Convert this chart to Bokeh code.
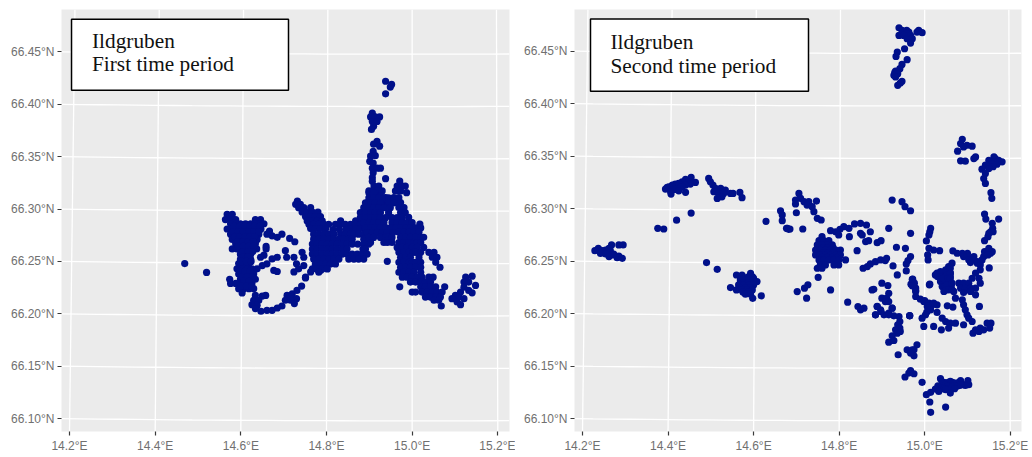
import math
from bokeh.embed import file_html
from bokeh.layouts import row
from bokeh.models import BoxAnnotation, FixedTicker, Label, PrintfTickFormatter, Range1d
from bokeh.plotting import figure
from bokeh.resources import INLINE

LON_TICKS = [14.2, 14.4, 14.6, 14.8, 15.0, 15.2]
LAT_TICKS = [66.10, 66.15, 66.20, 66.25, 66.30, 66.35, 66.40, 66.45]

# Each row: (latitude, [longitudes at that latitude])
first_west = [
    (66.295, [14.568, 14.580]),
    (66.290, [14.564, 14.576, 14.588, 14.634, 14.646]),
    (66.286, [14.576, 14.588, 14.599, 14.611, 14.623, 14.634, 14.646, 14.654]),
    (66.281, [14.568, 14.580, 14.591, 14.603, 14.615, 14.626, 14.638, 14.647]),
    (66.276, [14.576, 14.588, 14.599, 14.611, 14.623, 14.634, 14.642]),
    (66.271, [14.580, 14.591, 14.603, 14.615, 14.626, 14.638]),
    (66.267, [14.588, 14.599, 14.611, 14.623, 14.634]),
    (66.262, [14.580, 14.591, 14.603, 14.615, 14.626, 14.637]),
    (66.257, [14.599, 14.611, 14.623]),
    (66.252, [14.599, 14.611, 14.623]),
    (66.248, [14.469, 14.595, 14.607, 14.619]),
    (66.243, [14.591, 14.603, 14.615, 14.626]),
    (66.2395, [14.52]),
    (66.238, [14.595, 14.607, 14.619, 14.630]),
    (66.233, [14.574, 14.599, 14.611, 14.623, 14.634]),
    (66.229, [14.576, 14.588, 14.603, 14.615, 14.626]),
    (66.224, [14.595, 14.607, 14.619, 14.630]),
    (66.220, [14.603]),
    (66.2835, [14.585, 14.597, 14.609, 14.621, 14.632, 14.644]),
    (66.2785, [14.582, 14.594, 14.606, 14.618, 14.63, 14.642]),
    (66.2735, [14.586, 14.597, 14.609, 14.621, 14.632]),
    (66.269, [14.593, 14.605, 14.617, 14.629]),
    (66.2645, [14.594, 14.606, 14.618, 14.63]),
    (66.2595, [14.605, 14.617, 14.628]),
    (66.2545, [14.605, 14.617]),
    (66.25, [14.601, 14.613, 14.624]),
    (66.2405, [14.597, 14.609, 14.621]),
    (66.2355, [14.603, 14.615, 14.627]),
    (66.231, [14.607, 14.619]),
    (66.2265, [14.601, 14.613, 14.625]),
]
first_ring = [
    (66.2265, [14.742]), (66.2224, [14.731]), (66.2192, [14.72]),
    (66.2176, [14.634, 14.658, 14.708]), (66.217, [14.650]), (66.216, [14.717]),
    (66.2145, [14.73]), (66.213, [14.630, 14.642, 14.704, 14.716]),
    (66.2098, [14.725]), (66.2088, [14.626]), (66.2082, [14.638]), (66.2075, [14.696]),
    (66.2056, [14.685]), (66.205, [14.634]), (66.2034, [14.661, 14.673]), (66.2025, [14.647]),
]
first_middle = [
    (66.279, [14.667]), (66.2745, [14.673]), (66.273, [14.685]), (66.276, [14.661, 14.696]),
    (66.272, [14.714]), (66.2688, [14.726]), (66.2644, [14.659]), (66.262, [14.659]),
    (66.2603, [14.704]), (66.2587, [14.743]), (66.256, [14.654]),
    (66.254, [14.646, 14.685, 14.707, 14.724, 14.747]), (66.2524, [14.673]),
    (66.2477, [14.661, 14.73]), (66.2461, [14.65, 14.747]), (66.243, [14.638, 14.735]),
    (66.2445, [14.774]), (66.2414, [14.677, 14.786]), (66.2404, [14.685]),
    (66.24, [14.724, 14.763]), (66.235, [14.751]),
]
first_centre = [
    (66.3076, [14.732]),
    (66.3045, [14.728, 14.739]),
    (66.3013, [14.735, 14.747, 14.763]),
    (66.2972, [14.743, 14.755, 14.767, 14.780]),
    (66.2928, [14.751, 14.763, 14.774, 14.786]),
    (66.2887, [14.755, 14.767, 14.778, 14.790, 14.833, 14.868]),
    (66.2855, [14.759, 14.770, 14.782, 14.794, 14.805, 14.821, 14.833, 14.844, 14.856, 14.868, 14.879]),
    (66.2814, [14.763, 14.774, 14.786, 14.798, 14.856, 14.868, 14.879, 14.891]),
    (66.2805, [14.815, 14.83, 14.845]),
    (66.276, [14.770, 14.782, 14.794, 14.805, 14.817, 14.833, 14.844, 14.856, 14.864, 14.875, 14.887, 14.899]),
    (66.2713, [14.770, 14.782, 14.794, 14.805, 14.817, 14.829, 14.84, 14.852, 14.86, 14.887, 14.899]),
    (66.2666, [14.767, 14.778, 14.790, 14.802, 14.813, 14.825, 14.837, 14.848, 14.86, 14.873, 14.887, 14.899]),
    (66.2618, [14.767, 14.778, 14.790, 14.802, 14.813, 14.825, 14.837, 14.848, 14.885, 14.891]),
    (66.2571, [14.767, 14.778, 14.790, 14.802, 14.813, 14.825, 14.837, 14.848, 14.86, 14.872, 14.883, 14.895]),
    (66.2523, [14.770, 14.782, 14.794, 14.805, 14.817, 14.829, 14.852, 14.864, 14.875, 14.887]),
    (66.2501, [14.942]),
    (66.2476, [14.774, 14.786, 14.798, 14.809, 14.821]),
    (66.2429, [14.767, 14.778, 14.790, 14.802]),
    (66.2397, [14.782]),
    (66.2343, [14.751]),
]
first_tower = [
    (66.422, [14.938]), (66.419, [14.952]), (66.4165, [14.949]), (66.41, [14.938]),
    (66.3915, [14.907]), (66.388, [14.903, 14.914, 14.924]), (66.3836, [14.907, 14.918]),
    (66.379, [14.910]), (66.376, [14.905]),
    (66.3646, [14.918]), (66.362, [14.910]), (66.36, [14.924]),
    (66.355, [14.909]), (66.351, [14.914]), (66.3505, [14.903]), (66.3456, [14.901]),
    (66.344, [14.909]), (66.339, [14.907, 14.918, 14.926]), (66.3346, [14.909]),
    (66.33, [14.907]), (66.329, [14.938]), (66.3266, [14.907]),
    (66.322, [14.911, 14.922]),
    (66.3173, [14.899, 14.907, 14.918, 14.93]),
    (66.3125, [14.903, 14.914, 14.926]),
    (66.311, [14.938]),
    (66.3078, [14.899, 14.911, 14.922, 14.934, 14.946]),
    (66.303, [14.895, 14.907, 14.918, 14.93, 14.943]),
    (66.3155, [14.899, 14.910]),
    (66.3108, [14.899, 14.91, 14.922, 14.934, 14.945]),
    (66.306, [14.891, 14.903, 14.914, 14.926, 14.945, 14.957]),
    (66.3013, [14.887, 14.899, 14.91, 14.922, 14.934, 14.949]),
    (66.2966, [14.879, 14.891, 14.903, 14.914, 14.926, 14.945]),
    (66.2918, [14.879, 14.891, 14.903, 14.914, 14.926, 14.938, 14.953, 14.965]),
    (66.2871, [14.887, 14.899, 14.91, 14.922, 14.934, 14.953, 14.965]),
    (66.2824, [14.891, 14.903, 14.914, 14.926, 14.938, 14.95, 14.962]),
    (66.2776, [14.895, 14.907, 14.918, 14.93, 14.942, 14.955]),
    (66.2729, [14.899, 14.91, 14.926, 14.938, 14.945, 14.953]),
    (66.2681, [14.903, 14.934, 14.942, 14.953]),
]
first_east = [
    (66.3267, [14.971]), (66.322, [14.965, 14.977, 14.984]), (66.3173, [14.961, 14.973]),
    (66.3157, [14.987]), (66.311, [14.957, 14.969]), (66.3062, [14.961, 14.973]),
    (66.3015, [14.969, 14.981]), (66.2967, [14.973, 14.984]), (66.292, [14.977, 14.992]),
    (66.2857, [15.018]),
    (66.287, [14.977, 14.988, 15.0]),
    (66.282, [14.973, 14.985, 14.996, 15.008, 15.02]),
    (66.278, [14.969, 14.981, 14.992, 15.004, 15.016]),
    (66.273, [14.973, 14.985, 14.996, 15.008, 15.02, 15.027]),
    (66.268, [14.969, 14.981, 14.992, 15.004, 15.012, 15.02]),
    (66.2634, [14.965, 14.977, 14.988, 15.0, 15.012, 15.027]),
    (66.2587, [14.969, 14.981, 14.992, 15.002, 15.008, 15.02, 15.039, 15.051]),
    (66.254, [14.973, 14.985, 14.996, 15.016, 15.047, 15.058]),
    (66.2492, [14.969, 14.981, 14.993, 15.0, 15.008, 15.02, 15.055]),
    (66.2445, [14.973, 14.985, 14.996, 15.008, 15.02, 15.065]),
    (66.2397, [14.969, 14.981, 14.992, 15.004, 15.02]),
    (66.235, [14.977, 14.988, 15.0, 15.012, 15.023, 15.039, 15.049]),
    (66.2303, [14.996, 15.008, 15.02, 15.031, 15.043]),
    (66.2258, [14.971, 15.02, 15.031, 15.043, 15.055, 15.076]),
    (66.2208, [15.0, 15.008, 15.023, 15.035, 15.047, 15.058, 15.07]),
    (66.216, [15.031, 15.043, 15.055, 15.066]),
    (66.213, [15.051, 15.062]),
    (66.2075, [15.068]),
    (66.236, [15.14]), (66.235, [15.125]), (66.2303, [15.121, 15.132]), (66.2271, [15.148]),
    (66.2255, [15.121]), (66.2224, [15.132]), (66.2208, [15.113]), (66.2201, [15.14]),
    (66.2176, [15.101]), (66.216, [15.109]), (66.2145, [15.093, 15.121]),
    (66.2113, [15.105]), (66.2088, [15.113]),
]

second_west = [
    (66.2654, [14.268, 14.285, 14.295]),
    (66.2622, [14.237, 14.262]),
    (66.2606, [14.254]),
    (66.26, [14.229, 14.246, 14.265]),
    (66.2574, [14.242]),
    (66.2568, [14.254, 14.273]),
    (66.2559, [14.269]),
    (66.2549, [14.285]),
    (66.2543, [14.262]),
    (66.2533, [14.281]),
    (66.2527, [14.293]),
    (66.2812, [14.376]), (66.2806, [14.39]), (66.289, [14.42]), (66.2958, [14.454]),
    (66.3297, [14.454]), (66.3278, [14.441]), (66.3256, [14.433, 14.449]),
    (66.325, [14.464]), (66.324, [14.425]), (66.3234, [14.417, 14.452]),
    (66.3224, [14.41, 14.441]), (66.3208, [14.402, 14.433]), (66.3202, [14.429, 14.398]),
    (66.3186, [14.394]), (66.3183, [14.417]), (66.317, [14.425]), (66.3161, [14.406]),
    (66.3155, [14.441]), (66.3139, [14.407]),
    (66.3288, [14.495]), (66.3256, [14.499]), (66.3224, [14.505]), (66.3193, [14.511, 14.523]),
    (66.3177, [14.534]), (66.3161, [14.507]), (66.3145, [14.519, 14.53, 14.546, 14.552]),
    (66.3155, [14.568]), (66.3113, [14.526]), (66.3104, [14.573]), (66.3097, [14.515]),
    (66.2486, [14.49]), (66.2422, [14.515]),
    (66.2384, [14.593]),
    (66.2368, [14.56, 14.573]),
    (66.2347, [14.575, 14.587, 14.598]),
    (66.2337, [14.6]),
    (66.2321, [14.569, 14.581, 14.593]),
    (66.2305, [14.608]),
    (66.2295, [14.575, 14.587, 14.597]),
    (66.2273, [14.565, 14.577, 14.589, 14.6]),
    (66.2248, [14.546]),
    (66.2245, [14.568, 14.58, 14.592]),
    (66.2226, [14.56, 14.573, 14.585, 14.597]),
    (66.2205, [14.575, 14.587]),
    (66.2185, [14.581, 14.593]),
    (66.2169, [14.618]),
    (66.2146, [14.598]),
    (66.2879, [14.629]), (66.298, [14.663]), (66.294, [14.667]), (66.2885, [14.667]),
    (66.2812, [14.677]), (66.2806, [14.685]),
]
second_middle = [
    (66.3145, [14.706]), (66.3098, [14.71]), (66.3082, [14.698]), (66.3066, [14.718, 14.729]),
    (66.3072, [14.747]), (66.3044, [14.698]), (66.3034, [14.725]), (66.3019, [14.737]),
    (66.2971, [14.741]), (66.2961, [14.70]), (66.2908, [14.749]), (66.2892, [14.758]),
    (66.2806, [14.715]), (66.2812, [14.679]), (66.2803, [14.682]),
    (66.2733, [14.76]),
    (66.2695, [14.753, 14.764, 14.776]),
    (66.2654, [14.749, 14.76, 14.772, 14.784]),
    (66.263, [14.75, 14.762, 14.774, 14.786]),
    (66.2606, [14.745, 14.756, 14.768, 14.78, 14.792, 14.803]),
    (66.258, [14.75, 14.762, 14.774, 14.786]),
    (66.2559, [14.745, 14.756, 14.768, 14.78, 14.792, 14.803]),
    (66.2535, [14.76, 14.772, 14.784, 14.795]),
    (66.2511, [14.753, 14.764, 14.776, 14.788, 14.799, 14.815]),
    (66.2464, [14.756, 14.768, 14.788, 14.799]),
    (66.2432, [14.749, 14.76]),
    (66.286, [14.85]), (66.2854, [14.836]), (66.2844, [14.864]), (66.2828, [14.811]),
    (66.2812, [14.823]), (66.2803, [14.802]), (66.279, [14.78]), (66.278, [14.792, 14.873]),
    (66.2765, [14.85]), (66.2749, [14.799, 14.854]), (66.2733, [14.824]),
    (66.2686, [14.862]), (66.2695, [14.869, 14.898]), (66.2676, [14.889]),
    (66.26, [14.842]), (66.2812, [14.916]), (66.2765, [14.967]),
    (66.3082, [14.924]), (66.3066, [14.947]), (66.3019, [14.954]), (66.298, [14.967]),
    (66.2632, [14.934]), (66.2622, [14.955]),
    (66.2432, [14.856]), (66.2448, [14.866]), (66.2473, [14.873]), (66.2495, [14.885]),
    (66.2511, [14.897]), (66.2527, [14.911]), (66.2505, [14.908]),
    (66.2454, [14.926]), (66.2369, [14.936]), (66.2407, [14.957]),
    (66.2543, [14.967]), (66.2505, [14.961]), (66.2473, [14.957]),
    (66.221, [14.702]), (66.2242, [14.719]), (66.2274, [14.727]), (66.2147, [14.724]),
    (66.2346, [14.751]), (66.2226, [14.78]),
    (66.2109, [14.82]), (66.2067, [14.844]), (66.2052, [14.858]), (66.2036, [14.85]),
    (66.2232, [14.881]), (66.2226, [14.877]), (66.229, [14.9]), (66.2268, [14.914]),
    (66.2194, [14.916]), (66.2147, [14.9, 14.911]), (66.2115, [14.916]), (66.2067, [14.889]),
    (66.2036, [14.897]), (66.2052, [14.924]), (66.1988, [14.885]), (66.2004, [14.916]),
    (66.1972, [14.94]), (66.2327, [14.971]), (66.228, [14.968]), (66.2242, [14.979]),
    (66.222, [14.979]), (66.2274, [15.011]), (66.1979, [14.965]),
]
second_east = [
    (66.2812, [15.014]), (66.278, [15.012]), (66.2749, [15.01]), (66.2692, [15.004]),
    (66.2622, [15.01]), (66.2606, [15.021]), (66.26, [15.035]), (66.2559, [15.007]), (66.2511, [15.008]),
    (66.2597, [15.066]), (66.2575, [15.076, 15.088, 15.1, 15.154]), (66.2559, [15.099]), (66.2543, [15.091]),
    (66.2544, [15.115, 15.138]), (66.2528, [15.111]), (66.2512, [15.103]),
    (66.2511, [15.111, 15.134]), (66.2495, [15.123]), (66.2486, [15.107]), (66.248, [15.064, 15.123]), (66.2464, [15.13]),
    (66.2591, [15.146]), (66.259, [15.14, 15.158]), (66.2622, [15.15]), (66.2559, [15.148]), (66.2435, [15.151]),
    (66.3152, [15.155]), (66.3098, [15.157]), (66.2949, [15.14]), (66.2901, [15.143, 15.173]),
    (66.286, [15.158]), (66.2812, [15.159]), (66.278, [15.154, 15.16]), (66.2733, [15.148]),
    (66.2765, [15.15]), (66.2695, [15.14]), (66.2448, [15.056]),
    (66.2417, [15.13]), (66.2385, [15.119, 15.04, 15.05]),
    (66.2385, [15.06, 15.029]), (66.2401, [15.037]), (66.2417, [15.049]), (66.2433, [15.06]),
    (66.2369, [15.025]), (66.2353, [15.03, 15.041, 15.05, 15.06]), (66.2369, [15.053]),
    (66.2385, [15.06]), (66.2306, [15.037, 15.048, 15.06]), (66.2322, [15.049]),
    (66.2337, [15.043, 15.055, 15.06, 15.111, 15.127]),
    (66.2258, [15.041, 15.048, 15.062]), (66.2274, [15.053]), (66.229, [15.064, 15.08, 15.091, 15.103, 15.13]),
    (66.2211, [15.045]), (66.2227, [15.05, 15.056, 15.064]), (66.2211, [15.068]),
    (66.2242, [15.084, 15.095, 15.107, 15.119]), (66.2211, [15.107]), (66.2201, [15.091]),
    (66.2179, [15.119]), (66.228, [15.012]), (66.2328, [14.972]), (66.229, [14.976]),
    (66.2265, [14.971]), (66.2211, [14.979]), (66.2163, [14.979]), (66.2138, [14.99]),
    (66.2125, [15.0]), (66.2116, [14.998]), (66.21, [15.01, 15.021]), (66.2085, [15.018]),
    (66.2068, [15.006]), (66.2055, [15.01]), (66.2036, [15.014]), (66.2015, [15.005]),
    (66.2084, [15.029]), (66.1989, [15.002]), (66.1957, [14.994]), (66.1979, [14.965]),
    (66.2074, [15.053]), (66.2062, [15.066]), (66.2068, [15.128]),
    (66.2147, [15.072]), (66.2131, [15.088]), (66.2084, [15.091]), (66.2036, [15.095]),
    (66.1989, [15.099]), (66.1925, [15.111]), (66.1957, [15.103]), (66.1894, [15.091]),
    (66.1814, [15.113]),
    (66.2011, [15.029]), (66.1957, [15.041]), (66.1925, [15.049]), (66.1909, [15.06, 15.072]),
    (66.1862, [15.056]), (66.1878, [14.998, 15.021]), (66.1846, [15.039]),
    (66.1846, [15.119]), (66.1862, [15.13]), (66.183, [15.127]), (66.1846, [15.138]),
    (66.1909, [15.146, 15.155]), (66.1862, [15.152]),
]
second_south = [
    (66.1988, [14.885, 14.905, 14.916]), (66.2068, [14.889]), (66.202, [14.898]),
    (66.1979, [14.928]), (66.2052, [14.924]), (66.2115, [14.908]),
    (66.1925, [14.942]), (66.1893, [14.937]), (66.1862, [14.942]), (66.1846, [14.932]),
    (66.183, [14.943]), (66.1814, [14.936]), (66.1789, [14.924]), (66.1728, [14.916]),
    (66.1744, [14.928]), (66.1982, [14.965]), (66.1608, [14.938]),
    (66.1703, [14.982]), (66.1655, [14.975, 14.959, 14.971]), (66.1624, [14.967]), (66.1598, [14.975]),
    (66.1396, [14.954]), (66.1434, [14.963]), (66.1456, [14.967]), (66.1427, [14.975]),
    (66.1345, [14.994, 15.045, 15.055, 15.065, 15.08]), (66.1228, [15.004]), (66.125, [15.014]), (66.1158, [15.012]),
    (66.106, [15.014]), (66.111, [15.049]),
    (66.138, [15.037]), (66.1361, [15.084, 15.101]), (66.1354, [15.06]),
    (66.1339, [15.041, 15.072]), (66.1323, [15.049, 15.091, 15.103]), (66.1315, [15.058, 15.07, 15.082, 15.095]),
    (66.1313, [15.031]),
    (66.1307, [15.053, 15.076]), (66.1301, [15.064]), (66.1291, [15.041]), (66.1285, [15.045, 15.055, 15.07]),
    (66.1281, [15.025]),
    (66.1275, [15.049]), (66.1259, [15.033]), (66.1243, [15.06]), (66.1323, [15.084]),
]
second_north = [
    (66.4723, [14.94]), (66.4698, [14.947, 14.958, 14.986]), (66.4682, [14.963, 14.982]),
    (66.4676, [14.994]), (66.4665, [14.955, 14.96]), (66.465, [14.94, 14.951, 14.967]), (66.4619, [14.959, 14.971]),
    (66.4577, [14.967]), (66.4523, [14.953]), (66.4492, [14.936]), (66.445, [14.933]),
    (66.4419, [14.959]), (66.4374, [14.947]), (66.4333, [14.942]), (66.4311, [14.932]),
    (66.4295, [14.93]), (66.4286, [14.937]), (66.427, [14.928]), (66.4254, [14.932]), (66.4213, [14.947]),
    (66.4197, [14.943]), (66.4175, [14.937]),
    (66.3661, [15.088]), (66.362, [15.084]), (66.3604, [15.099]), (66.3595, [15.111]),
    (66.3588, [15.091]), (66.3547, [15.077]), (66.3455, [15.084]), (66.3452, [15.095]),
    (66.3477, [15.115, 15.165]), (66.3493, [15.119, 15.162]), (66.3461, [15.173, 15.15]),
    (66.3446, [15.181, 15.165, 15.17]), (66.343, [15.158]), (66.3423, [15.169]), (66.3414, [15.142]),
    (66.34, [15.15, 15.16]), (66.3376, [15.134]), (66.3382, [15.15]), (66.3335, [15.142]), (66.3287, [15.138]),
    (66.324, [15.142]),
]

FIRST = [first_west, first_ring, first_middle, first_centre, first_tower, first_east]
SECOND = [second_west, second_middle, second_east, second_south, second_north]

COLOR = "#00108a"
CM = 15.0          # central meridian of the map projection
BEND = 0.0032      # curvature of the parallels, degrees latitude per degree² of longitude


def flatten(groups):
    xs, ys = [], []
    for grp in groups:
        for lat, lons in grp:
            for lon in lons:
                xs.append(lon)
                ys.append(lat)
    return xs, ys


def panel(groups, xr, yr, pw, ph, bl, bt, br, bb, title, box, text_x, base1, base2):
    p = figure(width=pw, height=ph, output_backend="svg", toolbar_location=None,
               x_range=Range1d(*xr), y_range=Range1d(*yr),
               min_border_left=bl, min_border_right=br, min_border_top=bt, min_border_bottom=bb)
    p.background_fill_color = "#EBEBEB"
    p.border_fill_color = "white"
    p.outline_line_color = None
    p.grid.visible = False

    # curved graticule of the transverse-Mercator map
    merid_x, merid_y = [], []
    for lon in LON_TICKS:
        merid_x.append([CM + (lon - CM) * math.cos(math.radians(la)) / math.cos(math.radians(yr[0]))
                        for la in (yr[0], yr[1])])
        merid_y.append([yr[0], yr[1]])
    p.multi_line(merid_x, merid_y, line_color="white", line_width=1.3)
    steps = [xr[0] + (xr[1] - xr[0]) * i / 24 for i in range(25)]
    par_x, par_y = [], []
    for lat in LAT_TICKS:
        par_x.append(steps)
        par_y.append([lat - BEND * ((CM - xr[0]) ** 2 - (CM - s) ** 2) for s in steps])
    p.multi_line(par_x, par_y, line_color="white", line_width=1.3)

    xs, ys = flatten(groups)
    p.scatter(xs, ys, size=7.2, fill_color=COLOR, line_color=None)

    for ax, ticks, fmt in ((p.xaxis[0], LON_TICKS, "%.1f°E"), (p.yaxis[0], LAT_TICKS, "%.2f°N")):
        ax.ticker = FixedTicker(ticks=ticks)
        ax.formatter = PrintfTickFormatter(format=fmt)
        ax.axis_line_color = None
        ax.major_tick_line_color = "#3a3a3a"
        ax.major_tick_line_width = 1.2
        ax.major_tick_in = 0
        ax.major_tick_out = 4
        ax.minor_tick_line_color = None
        ax.major_label_text_font = "Liberation Sans"
        ax.major_label_text_font_size = "12px"
        ax.major_label_text_color = "#707070"
        ax.major_label_standoff = 3

    p.add_layout(BoxAnnotation(left=box[0], right=box[1], bottom=box[2], top=box[3],
                               fill_color="white", fill_alpha=1,
                               line_color="black", line_width=1.5, line_alpha=1))
    for txt, base in zip(("Ildgruben", title), (base1, base2)):
        p.add_layout(Label(x=text_x, y=base, text=txt, text_font="Liberation Serif",
                           text_font_size="21.3px", text_color="#111111",
                           text_baseline="alphabetic"))
    return p


left = panel(FIRST, (14.1813, 15.2273), (66.0877, 66.4905), 515, 455, 61, 9, 6, 21,
             "First time period", (14.2047, 14.7113, 66.4134, 66.4813), 14.2525, 66.4608, 66.4381)
right = panel(SECOND, (14.1813, 15.2264), (66.0877, 66.4897), 517, 455, 59, 9, 11, 23,
              "Second time period", (14.2187, 14.7284, 66.4118, 66.4807), 14.2655, 66.4585, 66.4355)

page = row(left, right)
open("out.html", "w").write(file_html(page, INLINE))
